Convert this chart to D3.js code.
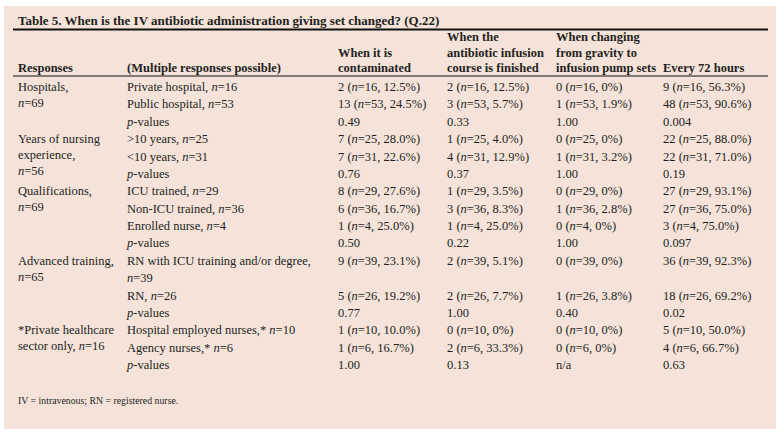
<!DOCTYPE html>
<html>
<head>
<meta charset="utf-8">
<script src="https://cdn.jsdelivr.net/npm/d3@7"></script>
<style>
  body { margin: 0; background: #fff; }
  text { font-family: "Liberation Serif", "Times New Roman", serif; fill: #231f20; }
</style>
</head>
<body>
<svg id="chart" width="784" height="434"></svg>
<script>
const title = "Table 5. When is the IV antibiotic administration giving set changed? (Q.22)";
const footnote = "IV = intravenous; RN = registered nurse.";

const headers = [
    ["Responses"],
    ["(Multiple responses possible)"],
    ["When it is", "contaminated"],
    ["When the", "antibiotic infusion", "course is finished"],
    ["When changing", "from gravity to", "infusion pump sets"],
    ["Every 72 hours"]
];

const groupLabels = [
    ["Hospitals,", "n=69"],
    ["Years of nursing", "experience,", "n=56"],
    ["Qualifications,", "n=69"],
    ["Advanced training,", "n=65"],
    ["*Private healthcare", "sector only, n=16"]
];
const groupSizes = [3, 3, 4, 3, 3];

const responses = [
    ["Private hospital, n=16"], ["Public hospital, n=53"], ["p-values"],
    [">10 years, n=25"], ["<10 years, n=31"], ["p-values"],
    ["ICU trained, n=29"], ["Non-ICU trained, n=36"], ["Enrolled nurse, n=4"], ["p-values"],
    ["RN with ICU training and/or degree,", "n=39"], ["RN, n=26"], ["p-values"],
    ["Hospital employed nurses,* n=10"], ["Agency nurses,* n=6"], ["p-values"]
];

const contaminated = ["2 (n=16, 12.5%)", "13 (n=53, 24.5%)", "0.49", "7 (n=25, 28.0%)", "7 (n=31, 22.6%)", "0.76",
    "8 (n=29, 27.6%)", "6 (n=36, 16.7%)", "1 (n=4, 25.0%)", "0.50", "9 (n=39, 23.1%)", "5 (n=26, 19.2%)", "0.77",
    "1 (n=10, 10.0%)", "1 (n=6, 16.7%)", "1.00"];
const courseFinished = ["2 (n=16, 12.5%)", "3 (n=53, 5.7%)", "0.33", "1 (n=25, 4.0%)", "4 (n=31, 12.9%)", "0.37",
    "1 (n=29, 3.5%)", "3 (n=36, 8.3%)", "1 (n=4, 25.0%)", "0.22", "2 (n=39, 5.1%)", "2 (n=26, 7.7%)", "1.00",
    "0 (n=10, 0%)", "2 (n=6, 33.3%)", "0.13"];
const gravityToPump = ["0 (n=16, 0%)", "1 (n=53, 1.9%)", "1.00", "0 (n=25, 0%)", "1 (n=31, 3.2%)", "1.00",
    "0 (n=29, 0%)", "1 (n=36, 2.8%)", "0 (n=4, 0%)", "1.00", "0 (n=39, 0%)", "1 (n=26, 3.8%)", "0.40",
    "0 (n=10, 0%)", "0 (n=6, 0%)", "n/a"];
const every72h = ["9 (n=16, 56.3%)", "48 (n=53, 90.6%)", "0.004", "22 (n=25, 88.0%)", "22 (n=31, 71.0%)", "0.19",
    "27 (n=29, 93.1%)", "27 (n=36, 75.0%)", "3 (n=4, 75.0%)", "0.097", "36 (n=39, 92.3%)", "18 (n=26, 69.2%)", "0.02",
    "5 (n=10, 50.0%)", "4 (n=6, 66.7%)", "0.63"];

const svg = d3.select("#chart");
const fontSize = 12.5;

svg.append("rect")
    .attr("x", 4).attr("y", 6)
    .attr("width", 772).attr("height", 423)
    .attr("fill", "#f5e3da");

// column positions
const x = d3.scaleOrdinal()
    .domain(d3.range(6))
    .range([18, 127, 338, 447, 556, 663]);

// one line slot per text line in the body
const lineY = d3.scaleLinear().domain([0, 16]).range([91, 369]);
// header lines, bottom aligned
const headY = d3.scaleLinear().domain([0, 2]).range([41, 72]);

// write a string with italic n (in n=) and p (in p-values)
function rich(textSel, str) {
    str.split(/(\bn(?==)|^p(?=-values))/).forEach(part => {
        if (!part) return;
        const t = textSel.append("tspan").text(part);
        if (part === "n" || part === "p") t.attr("font-style", "italic");
    });
}

svg.append("text")
    .attr("x", 18).attr("y", 25)
    .attr("font-size", 13)
    .attr("font-weight", "bold")
    .text(title);

svg.append("line")
    .attr("x1", 13).attr("x2", 768)
    .attr("y1", 29.5).attr("y2", 29.5)
    .attr("stroke", "#111").attr("stroke-width", 2);

svg.append("line")
    .attr("x1", 13).attr("x2", 768)
    .attr("y1", 76).attr("y2", 76)
    .attr("stroke", "#111").attr("stroke-width", 1);

headers.forEach((lines, c) => {
    lines.forEach((s, i) => {
        svg.append("text")
            .attr("x", x(c))
            .attr("y", headY(3 - lines.length + i))
            .attr("font-size", fontSize)
            .attr("font-weight", "bold")
            .text(s);
    });
});

// starting line slot of each response row
const rowStart = [];
let acc = 0;
responses.forEach(r => { rowStart.push(acc); acc += r.length; });

let gi = 0;
groupLabels.forEach((lines, g) => {
    const y0 = lineY(rowStart[gi]);
    lines.forEach((s, i) => {
        const t = svg.append("text")
            .attr("x", x(0))
            .attr("y", y0 + i * 16)
            .attr("font-size", fontSize);
        rich(t, s);
    });
    gi += groupSizes[g];
});

const columns = [responses, contaminated, courseFinished, gravityToPump, every72h];

columns.forEach((col, ci) => {
    col.forEach((v, r) => {
        const lines = Array.isArray(v) ? v : [v];
        lines.forEach((s, i) => {
            const t = svg.append("text")
                .attr("x", x(ci + 1))
                .attr("y", lineY(rowStart[r] + i))
                .attr("font-size", fontSize);
            rich(t, s);
        });
    });
});

svg.append("text")
    .attr("x", 18).attr("y", 404)
    .attr("font-size", 9.8)
    .text(footnote);
</script>
</body>
</html>
